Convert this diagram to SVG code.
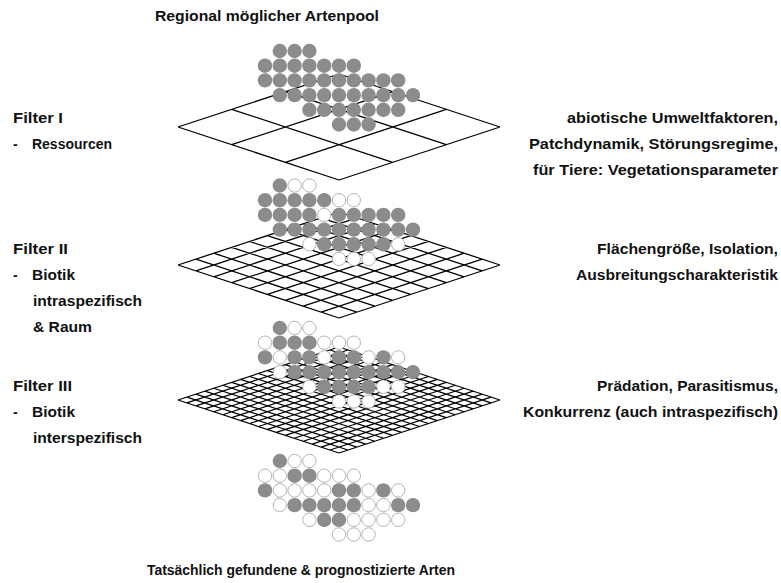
<svg xmlns="http://www.w3.org/2000/svg" xmlns:xlink="http://www.w3.org/1999/xlink" width="781" height="583" viewBox="0 0 781 583">
  <style>
    text { font-family: "Liberation Sans", Arial, sans-serif; font-weight: bold; font-size: 14px; fill: #111; }
    .end { text-anchor: end; }
    .grid { fill: none; stroke: #000; stroke-width: 1.3; vector-effect: non-scaling-stroke; stroke-linejoin: miter; }
    .fine { stroke-width: 1.2; }
    .g { fill: #8c8c8c; }
    .w { fill: #fff; stroke: #b4b4b4; stroke-width: 1; }
    circle.g { r: 7.2px; }
    circle.w { r: 6.7px; }
  </style>

  <rect width="781" height="583" fill="#fff"/>

  <g id="title">
    <text x="155" y="21" textLength="224" lengthAdjust="spacingAndGlyphs">Regional möglicher Artenpool</text>
  </g>

  <!-- Plane I: 3 x 3 grid, rhombus centred at (339,127) -->
  <g id="filter1-plane">
    <path class="grid" transform="matrix(53.667,-17.667,53.667,17.667,178,127)"
          d="M0 0V3M1 0V3M2 0V3M3 0V3M0 0H3M0 1H3M0 2H3M0 3H3"/>
  </g>

  <!-- Plane II: 9 x 9 grid -->
  <g id="filter2-plane">
    <path class="grid" transform="matrix(17.889,-5.889,17.889,5.889,178,265)"
          d="M0 0V9M1 0V9M2 0V9M3 0V9M4 0V9M5 0V9M6 0V9M7 0V9M8 0V9M9 0V9
             M0 0H9M0 1H9M0 2H9M0 3H9M0 4H9M0 5H9M0 6H9M0 7H9M0 8H9M0 9H9"/>
  </g>

  <!-- Plane III: 18 x 18 grid -->
  <g id="filter3-plane">
    <path class="grid fine" transform="matrix(8.944,-2.944,8.944,2.944,178,400)"
          d="M0 0V18M1 0V18M2 0V18M3 0V18M4 0V18M5 0V18M6 0V18M7 0V18M8 0V18M9 0V18
             M10 0V18M11 0V18M12 0V18M13 0V18M14 0V18M15 0V18M16 0V18M17 0V18M18 0V18
             M0 0H18M0 1H18M0 2H18M0 3H18M0 4H18M0 5H18M0 6H18M0 7H18M0 8H18M0 9H18
             M0 10H18M0 11H18M0 12H18M0 13H18M0 14H18M0 15H18M0 16H18M0 17H18M0 18H18"/>
  </g>

  <!-- Cluster 0: full regional pool (all grey) -->
  <g id="pool" transform="translate(0,51)">
    <circle class="g" cx="279.8" cy="0" r="7.2"/><circle class="g" cx="294.6" cy="0" r="7.2"/><circle class="g" cx="309.4" cy="0" r="7.2"/>
    <circle class="g" cx="265" cy="14.7" r="7.2"/><circle class="g" cx="279.8" cy="14.7" r="7.2"/><circle class="g" cx="294.6" cy="14.7" r="7.2"/><circle class="g" cx="309.4" cy="14.7" r="7.2"/><circle class="g" cx="324.2" cy="14.7" r="7.2"/><circle class="g" cx="339" cy="14.7" r="7.2"/><circle class="g" cx="353.8" cy="14.7" r="7.2"/>
    <circle class="g" cx="265" cy="29.4" r="7.2"/><circle class="g" cx="279.8" cy="29.4" r="7.2"/><circle class="g" cx="294.6" cy="29.4" r="7.2"/><circle class="g" cx="309.4" cy="29.4" r="7.2"/><circle class="g" cx="324.2" cy="29.4" r="7.2"/><circle class="g" cx="339" cy="29.4" r="7.2"/><circle class="g" cx="353.8" cy="29.4" r="7.2"/><circle class="g" cx="368.6" cy="29.4" r="7.2"/><circle class="g" cx="383.4" cy="29.4" r="7.2"/><circle class="g" cx="398.2" cy="29.4" r="7.2"/>
    <circle class="g" cx="279.8" cy="44.1" r="7.2"/><circle class="g" cx="294.6" cy="44.1" r="7.2"/><circle class="g" cx="309.4" cy="44.1" r="7.2"/><circle class="g" cx="324.2" cy="44.1" r="7.2"/><circle class="g" cx="339" cy="44.1" r="7.2"/><circle class="g" cx="353.8" cy="44.1" r="7.2"/><circle class="g" cx="368.6" cy="44.1" r="7.2"/><circle class="g" cx="383.4" cy="44.1" r="7.2"/><circle class="g" cx="398.2" cy="44.1" r="7.2"/><circle class="g" cx="413" cy="44.1" r="7.2"/>
    <circle class="g" cx="309.4" cy="58.8" r="7.2"/><circle class="g" cx="324.2" cy="58.8" r="7.2"/><circle class="g" cx="339" cy="58.8" r="7.2"/><circle class="g" cx="353.8" cy="58.8" r="7.2"/><circle class="g" cx="368.6" cy="58.8" r="7.2"/><circle class="g" cx="383.4" cy="58.8" r="7.2"/><circle class="g" cx="398.2" cy="58.8" r="7.2"/>
    <circle class="g" cx="339" cy="73.5" r="7.2"/><circle class="g" cx="353.8" cy="73.5" r="7.2"/><circle class="g" cx="368.6" cy="73.5" r="7.2"/>
  </g>

  <!-- Cluster 1: after filter I -->
  <g id="after-filter1" transform="translate(0,185.5)">
    <circle class="g" cx="279.8" cy="0" r="7.2"/><circle class="w" cx="294.6" cy="0" r="6.7"/><circle class="w" cx="309.4" cy="0" r="6.7"/>
    <circle class="g" cx="265" cy="14.7" r="7.2"/><circle class="g" cx="279.8" cy="14.7" r="7.2"/><circle class="g" cx="294.6" cy="14.7" r="7.2"/><circle class="g" cx="309.4" cy="14.7" r="7.2"/><circle class="g" cx="324.2" cy="14.7" r="7.2"/><circle class="w" cx="339" cy="14.7" r="6.7"/><circle class="w" cx="353.8" cy="14.7" r="6.7"/>
    <circle class="g" cx="265" cy="29.4" r="7.2"/><circle class="g" cx="279.8" cy="29.4" r="7.2"/><circle class="g" cx="294.6" cy="29.4" r="7.2"/><circle class="g" cx="309.4" cy="29.4" r="7.2"/><circle class="w" cx="324.2" cy="29.4" r="6.7"/><circle class="g" cx="339" cy="29.4" r="7.2"/><circle class="g" cx="353.8" cy="29.4" r="7.2"/><circle class="g" cx="368.6" cy="29.4" r="7.2"/><circle class="g" cx="383.4" cy="29.4" r="7.2"/><circle class="g" cx="398.2" cy="29.4" r="7.2"/>
    <circle class="g" cx="279.8" cy="44.1" r="7.2"/><circle class="g" cx="294.6" cy="44.1" r="7.2"/><circle class="g" cx="309.4" cy="44.1" r="7.2"/><circle class="g" cx="324.2" cy="44.1" r="7.2"/><circle class="g" cx="339" cy="44.1" r="7.2"/><circle class="g" cx="353.8" cy="44.1" r="7.2"/><circle class="g" cx="368.6" cy="44.1" r="7.2"/><circle class="g" cx="383.4" cy="44.1" r="7.2"/><circle class="g" cx="398.2" cy="44.1" r="7.2"/><circle class="g" cx="413" cy="44.1" r="7.2"/>
    <circle class="w" cx="309.4" cy="58.8" r="6.7"/><circle class="g" cx="324.2" cy="58.8" r="7.2"/><circle class="g" cx="339" cy="58.8" r="7.2"/><circle class="g" cx="353.8" cy="58.8" r="7.2"/><circle class="g" cx="368.6" cy="58.8" r="7.2"/><circle class="g" cx="383.4" cy="58.8" r="7.2"/><circle class="w" cx="398.2" cy="58.8" r="6.7"/>
    <circle class="w" cx="339" cy="73.5" r="6.7"/><circle class="w" cx="353.8" cy="73.5" r="6.7"/><circle class="w" cx="368.6" cy="73.5" r="6.7"/>
  </g>

  <!-- Cluster 2: after filter II -->
  <g id="after-filter2" transform="translate(0,328)">
    <circle class="g" cx="279.8" cy="0" r="7.2"/><circle class="w" cx="294.6" cy="0" r="6.7"/><circle class="w" cx="309.4" cy="0" r="6.7"/>
    <circle class="w" cx="265" cy="14.7" r="6.7"/><circle class="g" cx="279.8" cy="14.7" r="7.2"/><circle class="g" cx="294.6" cy="14.7" r="7.2"/><circle class="g" cx="309.4" cy="14.7" r="7.2"/><circle class="w" cx="324.2" cy="14.7" r="6.7"/><circle class="w" cx="339" cy="14.7" r="6.7"/><circle class="w" cx="353.8" cy="14.7" r="6.7"/>
    <circle class="g" cx="265" cy="29.4" r="7.2"/><circle class="w" cx="279.8" cy="29.4" r="6.7"/><circle class="g" cx="294.6" cy="29.4" r="7.2"/><circle class="g" cx="309.4" cy="29.4" r="7.2"/><circle class="w" cx="324.2" cy="29.4" r="6.7"/><circle class="g" cx="339" cy="29.4" r="7.2"/><circle class="g" cx="353.8" cy="29.4" r="7.2"/><circle class="w" cx="368.6" cy="29.4" r="6.7"/><circle class="g" cx="383.4" cy="29.4" r="7.2"/><circle class="w" cx="398.2" cy="29.4" r="6.7"/>
    <circle class="w" cx="279.8" cy="44.1" r="6.7"/><circle class="g" cx="294.6" cy="44.1" r="7.2"/><circle class="g" cx="309.4" cy="44.1" r="7.2"/><circle class="g" cx="324.2" cy="44.1" r="7.2"/><circle class="g" cx="339" cy="44.1" r="7.2"/><circle class="g" cx="353.8" cy="44.1" r="7.2"/><circle class="g" cx="368.6" cy="44.1" r="7.2"/><circle class="g" cx="383.4" cy="44.1" r="7.2"/><circle class="g" cx="398.2" cy="44.1" r="7.2"/><circle class="g" cx="413" cy="44.1" r="7.2"/>
    <circle class="w" cx="309.4" cy="58.8" r="6.7"/><circle class="g" cx="324.2" cy="58.8" r="7.2"/><circle class="g" cx="339" cy="58.8" r="7.2"/><circle class="g" cx="353.8" cy="58.8" r="7.2"/><circle class="g" cx="368.6" cy="58.8" r="7.2"/><circle class="w" cx="383.4" cy="58.8" r="6.7"/><circle class="w" cx="398.2" cy="58.8" r="6.7"/>
    <circle class="w" cx="339" cy="73.5" r="6.7"/><circle class="w" cx="353.8" cy="73.5" r="6.7"/><circle class="w" cx="368.6" cy="73.5" r="6.7"/>
  </g>

  <!-- Cluster 3: species actually found / predicted -->
  <g id="after-filter3" transform="translate(0,461)">
    <circle class="g" cx="279.8" cy="0" r="7.2"/><circle class="w" cx="294.6" cy="0" r="6.7"/><circle class="w" cx="309.4" cy="0" r="6.7"/>
    <circle class="w" cx="265" cy="14.7" r="6.7"/><circle class="w" cx="279.8" cy="14.7" r="6.7"/><circle class="g" cx="294.6" cy="14.7" r="7.2"/><circle class="g" cx="309.4" cy="14.7" r="7.2"/><circle class="w" cx="324.2" cy="14.7" r="6.7"/><circle class="w" cx="339" cy="14.7" r="6.7"/><circle class="w" cx="353.8" cy="14.7" r="6.7"/>
    <circle class="g" cx="265" cy="29.4" r="7.2"/><circle class="w" cx="279.8" cy="29.4" r="6.7"/><circle class="w" cx="294.6" cy="29.4" r="6.7"/><circle class="w" cx="309.4" cy="29.4" r="6.7"/><circle class="w" cx="324.2" cy="29.4" r="6.7"/><circle class="g" cx="339" cy="29.4" r="7.2"/><circle class="g" cx="353.8" cy="29.4" r="7.2"/><circle class="w" cx="368.6" cy="29.4" r="6.7"/><circle class="g" cx="383.4" cy="29.4" r="7.2"/><circle class="w" cx="398.2" cy="29.4" r="6.7"/>
    <circle class="w" cx="279.8" cy="44.1" r="6.7"/><circle class="g" cx="294.6" cy="44.1" r="7.2"/><circle class="g" cx="309.4" cy="44.1" r="7.2"/><circle class="g" cx="324.2" cy="44.1" r="7.2"/><circle class="g" cx="339" cy="44.1" r="7.2"/><circle class="g" cx="353.8" cy="44.1" r="7.2"/><circle class="w" cx="368.6" cy="44.1" r="6.7"/><circle class="w" cx="383.4" cy="44.1" r="6.7"/><circle class="g" cx="398.2" cy="44.1" r="7.2"/><circle class="g" cx="413" cy="44.1" r="7.2"/>
    <circle class="w" cx="309.4" cy="58.8" r="6.7"/><circle class="g" cx="324.2" cy="58.8" r="7.2"/><circle class="g" cx="339" cy="58.8" r="7.2"/><circle class="w" cx="353.8" cy="58.8" r="6.7"/><circle class="w" cx="368.6" cy="58.8" r="6.7"/><circle class="w" cx="383.4" cy="58.8" r="6.7"/><circle class="w" cx="398.2" cy="58.8" r="6.7"/>
    <circle class="w" cx="339" cy="73.5" r="6.7"/><circle class="w" cx="353.8" cy="73.5" r="6.7"/><circle class="w" cx="368.6" cy="73.5" r="6.7"/>
  </g>

  <!-- Left-hand filter labels -->
  <g id="filter1-label">
    <text x="13" y="123" textLength="50" lengthAdjust="spacingAndGlyphs">Filter I</text>
    <text x="13" y="149">-</text>
    <text x="32" y="149" textLength="80" lengthAdjust="spacingAndGlyphs">Ressourcen</text>
  </g>
  <g id="filter2-label">
    <text x="13" y="254" textLength="55" lengthAdjust="spacingAndGlyphs">Filter II</text>
    <text x="13" y="280">-</text>
    <text x="32" y="280" textLength="43" lengthAdjust="spacingAndGlyphs">Biotik</text>
    <text x="33" y="306" textLength="109" lengthAdjust="spacingAndGlyphs">intraspezifisch</text>
    <text x="33" y="332" textLength="59" lengthAdjust="spacingAndGlyphs">&amp; Raum</text>
  </g>
  <g id="filter3-label">
    <text x="13" y="391" textLength="59" lengthAdjust="spacingAndGlyphs">Filter III</text>
    <text x="13" y="417">-</text>
    <text x="32" y="417" textLength="43" lengthAdjust="spacingAndGlyphs">Biotik</text>
    <text x="33" y="443" textLength="109" lengthAdjust="spacingAndGlyphs">interspezifisch</text>
  </g>

  <!-- Right-hand factor descriptions -->
  <g id="filter1-factors">
    <text class="end" x="778" y="123" textLength="211" lengthAdjust="spacingAndGlyphs">abiotische Umweltfaktoren,</text>
    <text class="end" x="778" y="149" textLength="249" lengthAdjust="spacingAndGlyphs">Patchdynamik, Störungsregime,</text>
    <text class="end" x="778" y="175" textLength="245" lengthAdjust="spacingAndGlyphs">für Tiere: Vegetationsparameter</text>
  </g>
  <g id="filter2-factors">
    <text class="end" x="778" y="254" textLength="181" lengthAdjust="spacingAndGlyphs">Flächengröße, Isolation,</text>
    <text class="end" x="778" y="280" textLength="202" lengthAdjust="spacingAndGlyphs">Ausbreitungscharakteristik</text>
  </g>
  <g id="filter3-factors">
    <text class="end" x="778" y="391" textLength="181" lengthAdjust="spacingAndGlyphs">Prädation, Parasitismus,</text>
    <text class="end" x="778" y="417" textLength="255" lengthAdjust="spacingAndGlyphs">Konkurrenz (auch intraspezifisch)</text>
  </g>

  <g id="result-label">
    <text x="147" y="575" textLength="308" lengthAdjust="spacingAndGlyphs">Tatsächlich gefundene &amp; prognostizierte Arten</text>
  </g>
</svg>
